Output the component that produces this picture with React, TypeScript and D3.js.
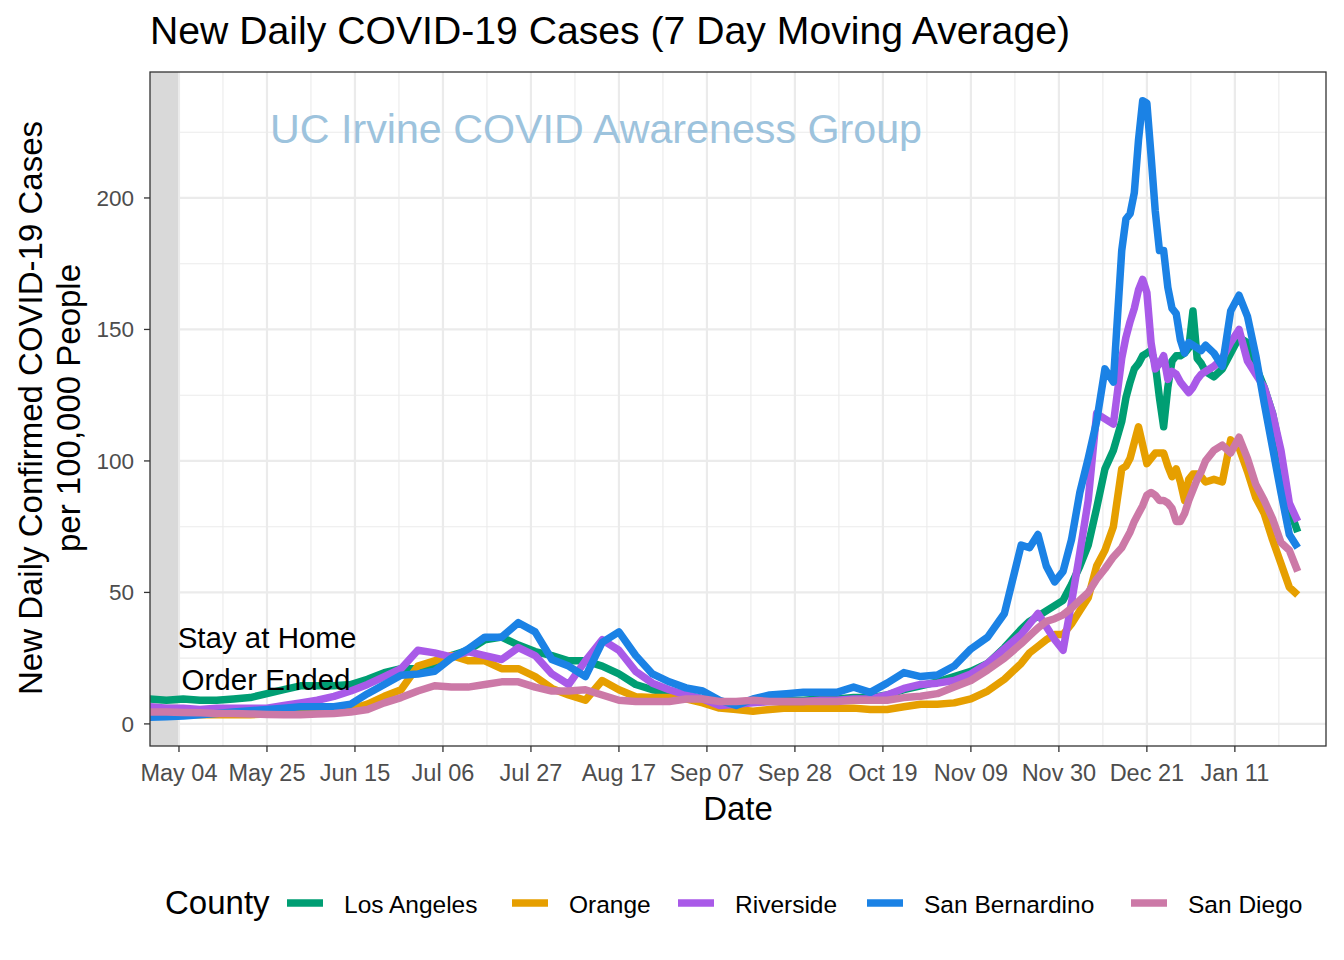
import React from "react";
import * as d3 from "d3";

// ---------- DATA ----------
const dates: string[] = [
  "2020-04-27","2020-05-01","2020-05-05","2020-05-09","2020-05-13","2020-05-17","2020-05-21","2020-05-25","2020-05-29",
  "2020-06-02","2020-06-06","2020-06-10","2020-06-14","2020-06-18","2020-06-22","2020-06-26","2020-06-30",
  "2020-07-04","2020-07-08","2020-07-12","2020-07-16","2020-07-20","2020-07-24","2020-07-28",
  "2020-08-01","2020-08-05","2020-08-09","2020-08-13","2020-08-17","2020-08-21","2020-08-25","2020-08-29",
  "2020-09-02","2020-09-06","2020-09-10","2020-09-14","2020-09-18","2020-09-22","2020-09-26","2020-09-30",
  "2020-10-04","2020-10-08","2020-10-12","2020-10-16","2020-10-20","2020-10-24","2020-10-28",
  "2020-11-01","2020-11-05","2020-11-09","2020-11-13","2020-11-17","2020-11-21",
  "2020-11-23","2020-11-25","2020-11-27","2020-11-29","2020-12-01","2020-12-03","2020-12-05","2020-12-07",
  "2020-12-09","2020-12-11","2020-12-13","2020-12-15",
  "2020-12-16","2020-12-17","2020-12-18","2020-12-19","2020-12-20","2020-12-21","2020-12-22","2020-12-23",
  "2020-12-24","2020-12-25","2020-12-26","2020-12-27","2020-12-28","2020-12-29","2020-12-30","2020-12-31",
  "2021-01-01","2021-01-02","2021-01-03",
  "2021-01-04","2021-01-06","2021-01-08","2021-01-10","2021-01-12","2021-01-14","2021-01-16","2021-01-18",
  "2021-01-20","2021-01-22","2021-01-24","2021-01-26",
];

const losAngeles: number[] = [
  9.5, 9, 9.5, 9, 9, 9.5, 10, 11.5, 13,
  14.5, 14.5, 14.5, 15, 17, 19.5, 21, 21,
  22, 26, 28, 32, 33, 30, 27.5,
  26, 24, 24, 22, 19, 15, 13, 12,
  11, 9.5, 8.5, 8, 8.5, 9, 9, 9,
  9.5, 9.5, 10, 10, 11, 13, 14.5,
  16, 18, 20, 23, 29, 36,
  39, 41, 43, 45, 47, 53, 60, 68, 82, 97, 104, 115,
  124, 130, 135, 137, 140, 141, 142, 137, 124, 113, 128, 138, 140, 140, 141, 143, 157, 139, 137,
  134, 132, 135, 141, 147, 145, 136, 128, 118, 102, 82, 73,
];

const orange: number[] = [
  4, 3.5, 3.5, 3.5, 3.5, 3.5, 3.5, 3.8, 4,
  4, 4.5, 5, 5.5, 7.5, 10.5, 13, 22,
  24, 26, 24, 24, 21, 21, 18,
  13.5, 11, 9, 16.5, 13, 10.3, 10, 10,
  9.5, 8, 6, 5.5, 4.8, 5.5, 6, 6,
  6, 6, 6, 5.5, 5.5, 6.5, 7.5,
  7.5, 8, 9.5, 12.5, 17, 23,
  27, 29.5, 32, 34, 34, 38, 43, 48, 60, 66, 75, 97,
  98, 101, 107, 113, 106, 99, 101, 103, 103, 103, 98, 94, 97, 92, 85, 93, 95, 95, 94,
  92, 93, 92, 108, 105, 96, 86, 80, 70, 61, 52, 49,
];

const riverside: number[] = [
  6.5, 6, 6, 5.5, 6, 6, 6, 6, 7,
  8, 9, 10.5, 12.5, 15, 18, 21, 28,
  27, 25.5, 27.5, 26, 24.5, 29, 26,
  19, 15, 24, 32, 28, 20, 15.5, 13,
  11, 9.5, 7, 7.5, 8, 8.5, 8.5, 8.5,
  9, 9, 9.5, 9.5, 11, 13.5, 15,
  15.5, 16.5, 19, 23, 28.5, 34,
  38, 42, 37, 32, 28, 46, 65, 85, 118, 116, 114, 139,
  147, 153, 158, 165, 169, 164, 145, 135, 137, 140, 131, 134, 133, 130, 128, 126, 128, 131, 133,
  134, 136, 139, 145, 150, 138, 133, 128, 118, 104, 84, 77,
];

const sanBernardino: number[] = [
  2.5, 2.7, 3, 3.5, 4, 4.5, 5, 5.5, 6,
  6.5, 6.5, 6.5, 7.5, 11.5, 15, 18.5, 19,
  20, 25, 28.5, 33, 33, 38.5, 35,
  24.5, 22, 18, 31, 35, 26, 19, 16,
  13.7, 12.5, 9, 7, 9.5, 11, 11.5, 12,
  12, 12, 14, 12, 15.5, 19.5, 18,
  18.6, 22, 28.5, 33, 42, 68,
  67, 72, 60, 54, 58, 70, 88, 101, 115, 135, 130, 180,
  192, 194, 202, 222, 237, 236, 216, 195, 180, 180, 166, 158, 156, 146, 141, 145, 144, 143, 142,
  144, 141, 136, 157, 163, 155, 140, 122, 105, 88, 72, 67,
];

const sanDiego: number[] = [
  4.5, 4.5, 4.3, 4.2, 4, 4, 3.8, 3.6, 3.5,
  3.5, 3.8, 4, 4.5, 5.5, 8, 10, 12.5,
  14.5, 14, 14, 15, 16, 16, 14,
  12.5, 12.5, 13, 11, 9, 8.5, 8.5, 8.5,
  9.5, 9.5, 8.5, 8.5, 9, 8.5, 8.5, 8.5,
  8.5, 8.5, 9, 9, 9, 10, 10.5,
  11.5, 14, 16.5, 20.5, 25, 30.5,
  33.5, 36.5, 39, 40, 41.5, 44, 47, 50, 55, 59, 63.5, 67,
  70, 73, 77, 80, 83, 87, 88, 87, 85, 85, 84, 82, 77, 77, 80, 85, 89, 93, 96,
  100, 104, 106, 103, 109, 101, 91, 85, 78, 69, 66, 58,
];

const countyNames: string[] = ["Los Angeles", "Orange", "Riverside", "San Bernardino", "San Diego"];
const countyColors: string[] = ["#009E73", "#E69F00", "#A95AE8", "#1B82E5", "#CC79A7"];
const countyValues: number[][] = [losAngeles, orange, riverside, sanBernardino, sanDiego];

const xTickDates: string[] = [
  "2020-05-04","2020-05-25","2020-06-15","2020-07-06","2020-07-27","2020-08-17","2020-09-07",
  "2020-09-28","2020-10-19","2020-11-09","2020-11-30","2020-12-21","2021-01-11",
];
const yTicks: number[] = [0, 50, 100, 150, 200];
const yMinor: number[] = [25, 75, 125, 175, 225];

const orderEndDate = "2020-05-04";

// ---------- LAYOUT ----------
const W = 1344;
const H = 960;
const P = { left: 150, right: 1326, top: 72, bottom: 746 };
const FONT = "'Liberation Sans', Arial, Helvetica, sans-serif";
const LW = 7.5;

const parse = (s: string) => d3.utcParse("%Y-%m-%d")(s) as Date;

export default function App() {
  const x = d3
    .scaleUtc()
    .domain([new Date(Date.UTC(2020, 3, 27, 2)), new Date(Date.UTC(2021, 1, 1, 18))])
    .range([P.left, P.right]);
  const y = d3.scaleLinear().domain([-8.4, 247.9]).range([P.bottom, P.top]);

  const tickX = xTickDates.map((d) => x(parse(d)));
  const step = tickX[1] - tickX[0];
  const minorX = tickX.map((t) => t + step / 2).filter((v) => v < P.right);
  const fmt = d3.utcFormat("%b %d");

  const line = d3
    .line<[Date, number]>()
    .x((d) => x(d[0]))
    .y((d) => y(d[1]));

  const parsedDates = dates.map(parse);

  const legendItems = [
    { key: 287, label: 344 },
    { key: 512, label: 569 },
    { key: 678, label: 735 },
    { key: 867, label: 924 },
    { key: 1131, label: 1188 },
  ];

  return (
    <svg
      width={W}
      height={H}
      style={{ position: "absolute", left: 0, top: 0, background: "#fff" }}
      fontFamily={FONT}
    >
      <rect x={0} y={0} width={W} height={H} fill="#fff" />
      <defs>
        <clipPath id="panel">
          <rect x={P.left} y={P.top} width={P.right - P.left} height={P.bottom - P.top} />
        </clipPath>
      </defs>

      {/* grid */}
      <g clipPath="url(#panel)">
        {yMinor.map((v) => (
          <line key={"ym" + v} x1={P.left} x2={P.right} y1={y(v)} y2={y(v)} stroke="#EBEBEB" strokeWidth={1.1} />
        ))}
        {minorX.map((v, i) => (
          <line key={"xm" + i} x1={v} x2={v} y1={P.top} y2={P.bottom} stroke="#EBEBEB" strokeWidth={1.1} />
        ))}
        {yTicks.map((v) => (
          <line key={"yM" + v} x1={P.left} x2={P.right} y1={y(v)} y2={y(v)} stroke="#EBEBEB" strokeWidth={2.2} />
        ))}
        {tickX.map((v, i) => (
          <line key={"xM" + i} x1={v} x2={v} y1={P.top} y2={P.bottom} stroke="#EBEBEB" strokeWidth={2.2} />
        ))}
        {/* shaded stay-at-home period */}
        <rect
          x={P.left}
          y={P.top}
          width={x(parse(orderEndDate)) - P.left - 1}
          height={P.bottom - P.top}
          fill="#D9D9D9"
        />
        {/* watermark */}
        <text x={270} y={143} fontSize={41} fill="#9DC3DD" textLength={652} lengthAdjust="spacingAndGlyphs">
          UC Irvine COVID Awareness Group
        </text>
        {/* lines */}
        {countyValues.map((vals, i) => (
          <path
            key={countyNames[i]}
            d={line(parsedDates.map((d, j) => [d, vals[j]] as [Date, number])) || ""}
            fill="none"
            stroke={countyColors[i]}
            strokeWidth={LW}
            strokeLinejoin="round"
            strokeLinecap="butt"
          />
        ))}
        {/* annotation */}
        <text x={267} y={648} fontSize={29.5} textAnchor="middle" fill="#000">
          Stay at Home
        </text>
        <text x={266} y={690} fontSize={29.5} textAnchor="middle" fill="#000">
          Order Ended
        </text>
      </g>

      {/* panel border */}
      <rect
        x={P.left}
        y={P.top}
        width={P.right - P.left}
        height={P.bottom - P.top}
        fill="none"
        stroke="#333333"
        strokeWidth={1.3}
      />

      {/* y axis */}
      {yTicks.map((v) => (
        <g key={"yt" + v}>
          <line x1={P.left - 6} x2={P.left} y1={y(v)} y2={y(v)} stroke="#333333" strokeWidth={1.3} />
          <text x={P.left - 16} y={y(v) + 8} fontSize={22.5} textAnchor="end" fill="#4D4D4D">
            {v}
          </text>
        </g>
      ))}

      {/* x axis */}
      {xTickDates.map((d, i) => (
        <g key={"xt" + d}>
          <line x1={tickX[i]} x2={tickX[i]} y1={P.bottom} y2={P.bottom + 6} stroke="#333333" strokeWidth={1.3} />
          <text x={tickX[i]} y={781} fontSize={23.5} textAnchor="middle" fill="#4D4D4D">
            {fmt(parse(d))}
          </text>
        </g>
      ))}

      {/* titles */}
      <text x={150} y={44} fontSize={39} fill="#000" textLength={920} lengthAdjust="spacingAndGlyphs">
        New Daily COVID-19 Cases (7 Day Moving Average)
      </text>
      <text x={738} y={820} fontSize={33} textAnchor="middle" fill="#000">
        Date
      </text>
      <g transform="translate(42,408) rotate(-90)">
        <text x={0} y={0} fontSize={33} textAnchor="middle" fill="#000">
          New Daily Confirmed COVID-19 Cases
        </text>
        <text x={0} y={38} fontSize={33} textAnchor="middle" fill="#000">
          per 100,000 People
        </text>
      </g>

      {/* legend */}
      <text x={165} y={914} fontSize={33} fill="#000">
        County
      </text>
      {legendItems.map((it, i) => (
        <g key={"lg" + i}>
          <line
            x1={it.key}
            x2={it.key + 36}
            y1={903}
            y2={903}
            stroke={countyColors[i]}
            strokeWidth={LW}
          />
          <text x={it.label} y={913} fontSize={24.5} fill="#000">
            {countyNames[i]}
          </text>
        </g>
      ))}
    </svg>
  );
}
